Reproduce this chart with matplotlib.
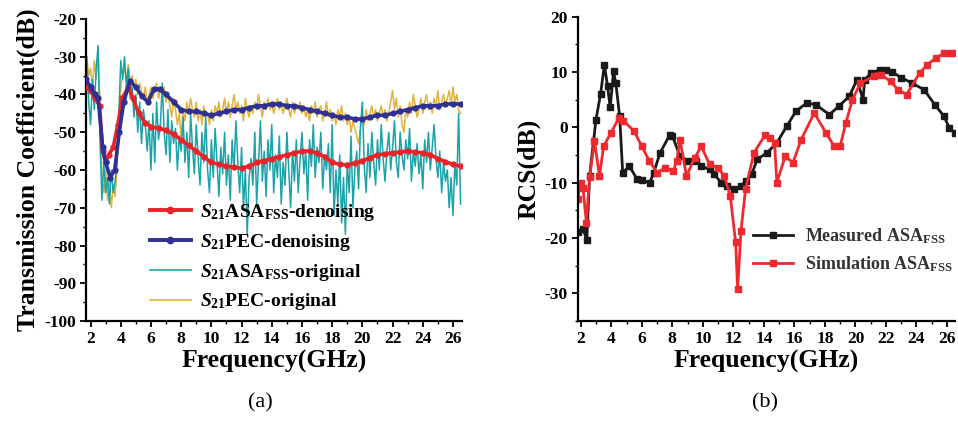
import numpy as np
import matplotlib.pyplot as plt
from matplotlib.ticker import MultipleLocator

plt.rcParams['font.family'] = 'Liberation Serif'
plt.rcParams['font.weight'] = 'bold'
plt.rcParams['axes.labelweight'] = 'bold'
plt.rcParams['axes.unicode_minus'] = False
plt.rcParams['mathtext.fontset'] = 'custom'
plt.rcParams['mathtext.rm'] = 'Liberation Serif:bold'
plt.rcParams['mathtext.bf'] = 'Liberation Serif:bold'
plt.rcParams['mathtext.it'] = 'Liberation Serif:italic:bold'

# ---- (a) transmission coefficient ----
asa_dn_f = [1.7, 2.0, 2.3, 2.6, 2.8, 3.0, 3.2, 3.5, 3.8, 4.1, 4.5, 4.8, 5.2, 5.6, 6.0,
            6.5, 7.0, 7.5, 8.0, 8.5, 9.0, 9.5, 10.0, 10.5, 11.0, 11.5, 12.0, 12.5, 13.0, 13.5,
            14.0, 14.5, 15.0, 15.5, 16.0, 16.5, 17.0, 17.5, 18.0, 18.5, 19.0, 19.5, 20.0, 20.5,
            21.0, 21.5, 22.0, 22.5, 23.0, 23.5, 24.0, 24.5, 25.0, 25.5, 26.0, 26.5]
asa_dn = [-38, -39, -41, -43, -55, -58, -56, -54, -48, -41, -38, -41, -45, -47.5, -48.5,
          -49, -49.5, -50.5, -52, -53.5, -55, -56.5, -58, -58.5, -59, -59.3, -59.5, -59, -58, -57.5,
          -57, -56.5, -56, -55.5, -55, -55, -55.5, -56.5, -58, -58.5, -58.7, -58.2, -57.5, -56.8,
          -56, -55.7, -55.5, -55.2, -55, -55.2, -55.5, -56, -57, -57.8, -58.5, -59]

pec_dn_f = [1.7, 2.0, 2.3, 2.5, 2.8, 3.0, 3.3, 3.6, 3.9, 4.2, 4.6, 5.0, 5.4, 5.8, 6.2, 6.6,
            7.0, 7.5, 8.0, 8.5, 9.0, 9.5, 10.0, 10.5, 11.0, 11.5, 12.0, 12.5, 13.0, 13.5,
            14.0, 14.5, 15.0, 15.5, 16.0, 16.5, 17.0, 17.5, 18.0, 18.5, 19.0, 19.5, 20.0, 20.5,
            21.0, 21.5, 22.0, 22.5, 23.0, 23.5, 24.0, 24.5, 25.0, 25.5, 26.0, 26.5]
pec_dn = [-36, -38, -40, -41, -54, -58, -62, -60, -50, -42, -36.5, -38, -40.5, -42, -38.5, -38.5,
          -40, -42, -44, -44.5, -44.5, -45, -45.5, -45, -44.5, -44, -44, -43.5, -43, -43,
          -42.5, -42.5, -43, -43, -43.5, -44, -44.5, -45, -45.5, -46, -46, -46.5, -46.5, -46,
          -45.5, -45.5, -45, -44.5, -44, -43.5, -43, -43, -43, -42.5, -42.5, -42.5]

# raw sweeps, 0.125 GHz step from 1.75 GHz
asa_raw = [-30, -42, -48, -36, -44, -33, -27, -52,
           -68, -58, -66, -62, -69, -60, -66, -63,
           -58, -45, -31, -36, -30, -38, -33, -41,
           -38, -46, -40, -50, -42, -53, -44, -48,
           -55, -47, -60, -45, -58, -42, -52, -48,
           -37, -50, -56, -44, -58, -47, -53, -49,
           -60, -51, -55, -46, -58, -50, -62, -45,
           -54, -61, -48, -57, -64, -50, -58, -46,
           -60, -66, -52, -62, -49, -58, -67, -54,
           -61, -50, -64, -56, -68, -52, -60, -47,
           -58, -66, -54, -70, -60, -77, -62, -57,
           -64, -50, -69, -58, -47, -63, -55, -67,
           -52, -60, -48, -66, -56, -62, -51, -69,
           -58, -64, -50, -60, -70, -55, -63, -52,
           -66, -57, -50, -61, -55, -68, -52, -59,
           -48, -62, -54, -58, -50, -65, -56, -60,
           -53, -66, -48, -72, -60, -69, -56, -74,
           -62, -77, -58, -66, -51, -70, -60, -55,
           -65, -48, -42, -59, -66, -53, -62, -50,
           -58, -64, -52, -60, -48, -57, -63, -55,
           -50, -60, -54, -47, -58, -62, -50, -56,
           -60, -52, -57, -49, -63, -55, -59, -53,
           -61, -56, -65, -52, -58, -50, -60, -54,
           -48, -57, -62, -55, -66, -58, -63, -60,
           -70, -62, -72, -58, -64, -45, -69]
pec_raw = [-30, -35, -33, -38, -31, -36, -29, -42,
           -62, -66, -60, -68, -63, -70, -64, -67,
           -60, -48, -38, -35, -33, -36, -32, -37,
           -35, -38, -36, -40, -37, -39, -41, -38,
           -42, -40, -38, -41, -39, -37, -41, -39,
           -40, -38, -42, -40, -43, -46, -41, -44,
           -48, -45, -52, -44, -47, -42, -45, -41,
           -44, -46, -42, -47, -44, -48, -43, -46,
           -45, -48, -44, -47, -43, -45, -42, -46,
           -44, -41, -45, -42, -46, -43, -40, -44,
           -42, -45, -43, -47, -41, -44, -46, -43,
           -45, -42, -44, -40, -43, -46, -42, -44,
           -41, -44, -42, -45, -43, -41, -44, -42,
           -45, -43, -41, -44, -46, -42, -45, -43,
           -44, -42, -45, -43, -46, -44, -47, -43,
           -45, -42, -46, -44, -43, -47, -45, -42,
           -46, -44, -47, -45, -48, -44, -46, -43,
           -47, -45, -48, -46, -50, -47, -49, -51,
           -53, -49, -46, -48, -44, -47, -45, -43,
           -46, -44, -47, -45, -43, -46, -44, -47,
           -45, -42, -39, -44, -41, -46, -43, -48,
           -50, -44, -46, -42, -45, -40, -43, -46,
           -44, -41, -45, -42, -40, -44, -42, -45,
           -41, -43, -39, -44, -42, -40, -43, -41,
           -39, -43, -38, -42, -40, -44, -45]
raw_f = 1.75 + 0.125 * np.arange(len(asa_raw))

# ---- (b) RCS ----
meas_f = [1.8, 2.15, 2.4, 2.58, 3.0, 3.3, 3.55, 3.76, 3.93, 4.15, 4.3, 4.55, 4.75, 5.18,
          5.7, 6.0, 6.52, 6.78, 7.2, 7.85, 8.0, 8.5, 9.04, 9.57, 9.9, 10.44, 10.76, 11.2,
          11.6, 12.05, 12.5, 12.8, 13.2, 13.56, 14.2, 14.85, 15.5, 16.1, 16.8, 17.4, 18.3,
          18.9, 19.6, 20.1, 20.5, 20.6, 21.0, 21.6, 22.0, 22.4, 23.0, 23.7, 24.5, 25.2,
          25.8, 26.15, 26.5]
meas_rcs = [-19, -18.4, -20.3, -8.8, 1.4, 6, 11.3, 7.4, 3.6, 10.1, 8, 2, -8.2, -7,
            -9.4, -9.6, -10, -8.2, -4.6, -1.3, -1.5, -5.2, -6.1, -6.1, -7, -7.6, -8.5, -10,
            -10.6, -11.2, -10.6, -9.7, -8.5, -5.8, -4.6, -2.8, 0.2, 2.9, 4.4, 4.1, 2.3,
            3.8, 5.6, 8.6, 5, 8.5, 9.8, 10.4, 10.3, 10, 9, 8, 6.8, 4.1,
            2, -0.1, -1]

sim_f = [1.8, 2.0, 2.15, 2.37, 2.58, 2.9, 3.23, 3.5, 3.98, 4.5, 4.8, 5.5, 6.0, 6.5,
         7.0, 7.55, 8.07, 8.3, 8.5, 8.93, 9.47, 9.9, 10.44, 11.0, 11.4, 11.8, 12.15, 12.28,
         12.5, 12.8, 13.35, 14.1, 14.4, 14.7, 14.85, 15.4, 15.9, 16.45, 17.3, 18.07, 18.6,
         19.0, 19.37, 19.8, 20.33, 21.2, 21.7, 22.3, 22.8, 23.35, 24.2, 24.7, 25.3, 25.8,
         26.2, 26.5]
sim_rcs = [-13, -10, -11, -17.2, -9, -2.5, -8.8, -3.4, -1, 1.7, 1.2, -0.7, -3.4, -6.1,
           -8.2, -7.3, -7.9, -6, -2.2, -8.8, -5.5, -3.4, -6.7, -7.3, -8.8, -12.4, -20.8, -29.2,
           -18.7, -11.2, -4.6, -1.3, -2, -2.8, -10, -5.2, -6.4, -2.2, 2.6, -1, -3.4,
           -3.4, 0.8, 5, 8, 9.2, 9.5, 8.3, 6.8, 5.9, 9.8, 11.3, 12.6, 13.4,
           13.5, 13.5]


def style_axes(ax):
    for side in ('top', 'right'):
        ax.spines[side].set_visible(False)
    for side in ('left', 'bottom'):
        ax.spines[side].set_linewidth(1.6)
    ax.xaxis.set_major_locator(MultipleLocator(2))
    ax.xaxis.set_minor_locator(MultipleLocator(1))
    ax.yaxis.set_minor_locator(MultipleLocator(5))
    ax.tick_params(which='major', direction='out', length=4, width=1.3, labelsize=12.5, pad=3)
    ax.tick_params(which='minor', direction='out', length=2, width=1)
    for lab in ax.get_xticklabels() + ax.get_yticklabels():
        lab.set_fontweight('bold')


fig = plt.figure(figsize=(9.58, 4.23), dpi=100)

ax1 = fig.add_axes([0.0898, 0.2411, 0.3925, 0.714])
ax1.plot(raw_f, asa_raw, color='#1ba3aa', lw=1.1, zorder=2)
ax1.plot(raw_f, pec_raw, color='#e3b23c', lw=1.1, zorder=1)
ax1.plot(asa_dn_f, asa_dn, color='#e8242a', lw=2.6, marker='o', ms=3.5, zorder=3)
ax1.plot(pec_dn_f, pec_dn, color='#2e3192', lw=2.6, marker='o', ms=3.5, zorder=3)
ax1.set_xlim(1.7, 26.6)
ax1.set_ylim(-100, -20)
ax1.yaxis.set_major_locator(MultipleLocator(10))
style_axes(ax1)
ax1.set_ylabel('Transmission Coefficient(dB)', fontsize=18.5, labelpad=3)
ax1.set_xlabel('Frequency(GHz)', fontsize=18.5, labelpad=2)

h = [plt.Line2D([], [], color='#e8242a', lw=2.8, marker='o', ms=4.5),
     plt.Line2D([], [], color='#2e3192', lw=2.8, marker='o', ms=4.5),
     plt.Line2D([], [], color='#1ba3aa', lw=1.2),
     plt.Line2D([], [], color='#e3b23c', lw=1.2)]
labels = [r'$\mathit{S}_{21}$ASA$_{\mathrm{FSS}}$-denoising',
          r'$\mathit{S}_{21}$PEC-denoising',
          r'$\mathit{S}_{21}$ASA$_{\mathrm{FSS}}$-original',
          r'$\mathit{S}_{21}$PEC-original']
ax1.legend(h, labels, loc='upper left', bbox_to_anchor=(0.1566, 0.522),
           bbox_transform=fig.transFigure, frameon=False, fontsize=14,
           handlelength=2.1, handletextpad=0.45, labelspacing=0.45,
           borderpad=0, borderaxespad=0)

ax2 = fig.add_axes([0.603, 0.2411, 0.3935, 0.7195])
ax2.plot(meas_f, meas_rcs, color='#1a1a1a', lw=2, marker='s', ms=4.5, label=r'Measured ASA$_{\mathrm{FSS}}$')
ax2.plot(sim_f, sim_rcs, color='#ee2a2e', lw=2, marker='s', ms=4.5, label=r'Simulation ASA$_{\mathrm{FSS}}$')
ax2.set_xlim(1.8, 26.5)
ax2.set_ylim(-35, 20)
ax2.yaxis.set_major_locator(MultipleLocator(10))
style_axes(ax2)
ax2.set_ylabel('RCS(dB)', fontsize=18.5, labelpad=3)
ax2.set_xlabel('Frequency(GHz)', fontsize=18.5, labelpad=2)
leg2 = ax2.legend(loc='upper left', bbox_to_anchor=(0.786, 0.465),
                  bbox_transform=fig.transFigure, frameon=False, fontsize=13,
                  handlelength=2.2, handletextpad=0.7, labelspacing=0.45,
                  borderpad=0, borderaxespad=0)
for t in leg2.get_texts():
    t.set_color('#333333')

fig.text(260 / 958, 1 - 403 / 423, '(a)', fontsize=16, fontweight='normal', ha='center', va='center')
fig.text(765 / 958, 1 - 403 / 423, '(b)', fontsize=16, fontweight='normal', ha='center', va='center')

fig.savefig('out.png', dpi=100)
